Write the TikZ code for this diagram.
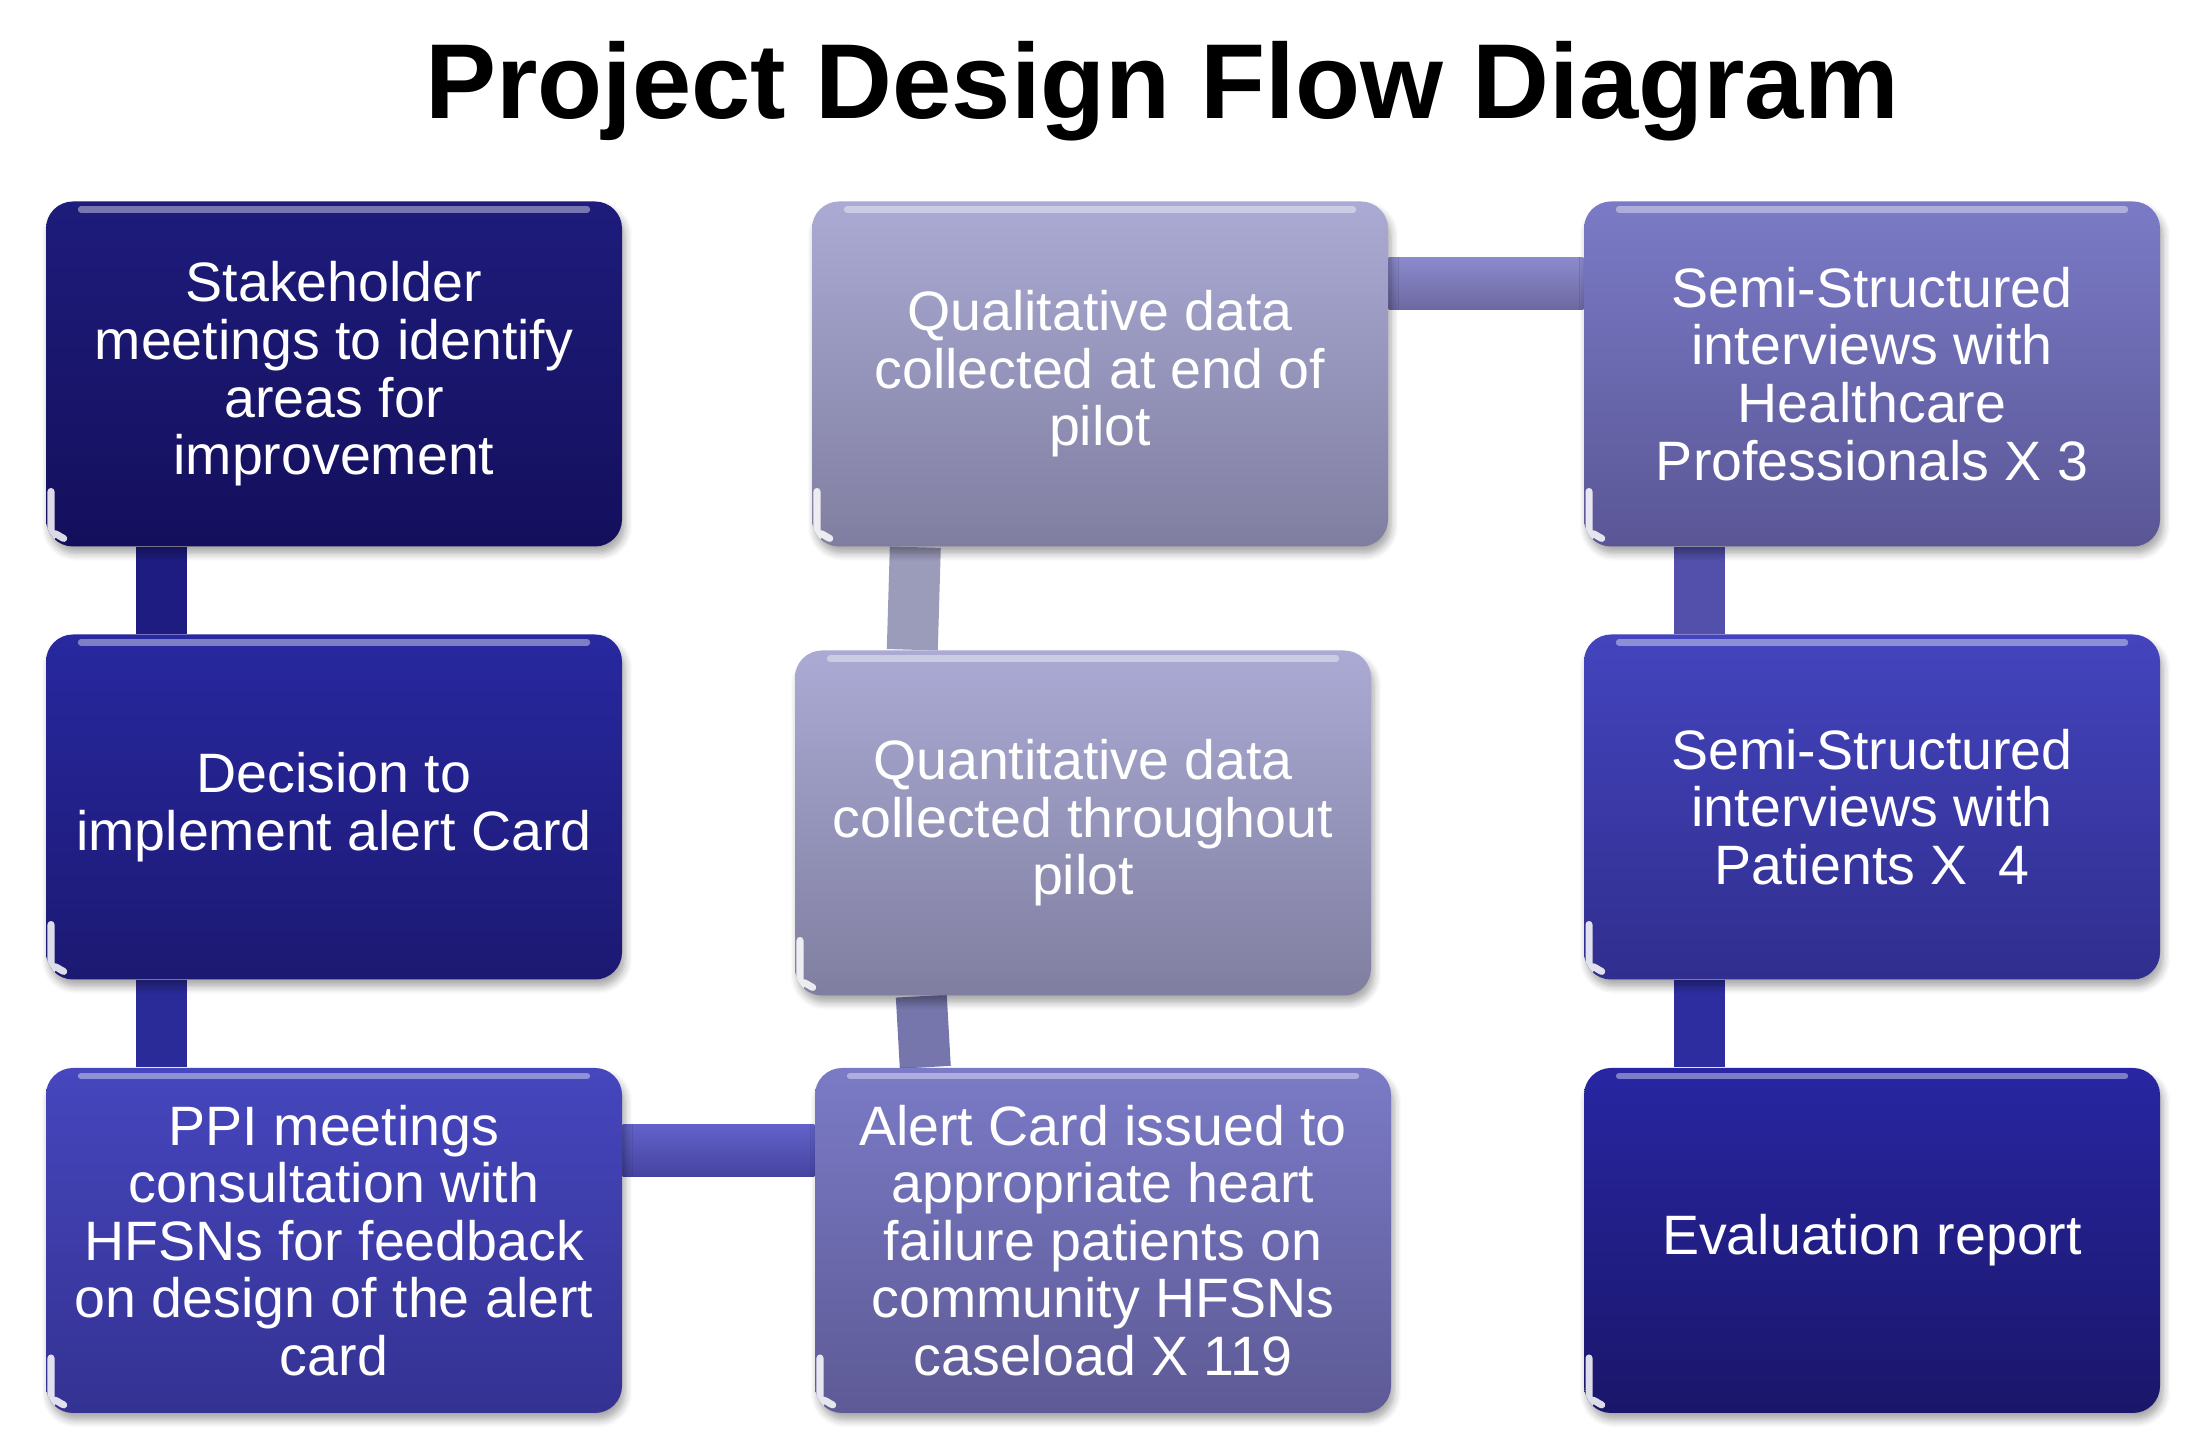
\documentclass[tikz,border=0pt]{standalone}
\usepackage{fontspec}
\setmainfont{Liberation Sans}
\usetikzlibrary{shadows.blur,backgrounds}
% box shades, top and bottom
\definecolor{stakeT}{RGB}{30,28,124}\definecolor{stakeB}{RGB}{20,15,92}
\definecolor{decT}{RGB}{40,40,160}\definecolor{decB}{RGB}{28,25,114}
\definecolor{ppiT}{RGB}{70,70,190}\definecolor{ppiB}{RGB}{52,50,146}
\definecolor{alertT}{RGB}{122,122,198}\definecolor{alertB}{RGB}{94,90,150}
\definecolor{dataT}{RGB}{170,170,212}\definecolor{dataB}{RGB}{128,126,160}
\definecolor{semiT}{RGB}{122,122,198}\definecolor{semiB}{RGB}{90,86,150}
\definecolor{patT}{RGB}{68,68,190}\definecolor{patB}{RGB}{48,46,142}
\definecolor{evalT}{RGB}{40,38,162}\definecolor{evalB}{RGB}{26,22,106}
% bars
\definecolor{barA}{RGB}{30,28,128}\definecolor{barB}{RGB}{42,42,152}
\definecolor{barC}{RGB}{118,118,172}\definecolor{barD}{RGB}{155,155,186}
\definecolor{barE}{RGB}{82,80,170}\definecolor{barF}{RGB}{45,45,160}
\definecolor{barGT}{RGB}{98,98,202}\definecolor{barGB}{RGB}{70,68,160}
\definecolor{barHT}{RGB}{140,138,206}\definecolor{barHB}{RGB}{108,104,160}
\begin{document}
\begin{tikzpicture}[line join=round,
  box/.style={rounded corners=0.27cm, minimum width=5.76cm, minimum height=3.45cm,
    align=center, text=white, font=\fontsize{15.8}{16.4}\selectfont,
    blur shadow={shadow xshift=0.03cm, shadow yshift=-0.07cm, shadow opacity=35, shadow blur steps=6},
    path picture={
      \draw[white, opacity=0.4, line width=1.8pt, line cap=round]
        ([xshift=0.35cm,yshift=-0.08cm]path picture bounding box.north west) --
        ([xshift=-0.35cm,yshift=-0.08cm]path picture bounding box.north east);
      \draw[white, opacity=0.85, line width=2pt, line cap=round]
        ([xshift=0.05cm,yshift=0.34cm]path picture bounding box.south west) -- ++(0,-0.06)
        arc[start angle=180, end angle=245, radius=0.22cm];
    }},
  bar/.style={line width=0.51cm, line cap=butt}]
\useasboundingbox (0,0) rectangle (22.03,14.33);

\node[font=\fontsize{30.3}{36}\selectfont\bfseries, anchor=base] (title) at (11.62,13.14) {Project Design Flow Diagram};

% first column
\node[box, top color=stakeT, bottom color=stakeB] (stake) at (3.34,10.59) {Stakeholder\\meetings to identify\\areas for\\improvement};
\node[box, top color=decT, bottom color=decB] (decision) at (3.34,6.26) {Decision to\\implement alert Card};
\node[box, top color=ppiT, bottom color=ppiB] (ppi) at (3.34,1.925) {PPI meetings\\consultation with\\HFSNs for feedback\\on design of the alert\\card};
% second column
\node[box, top color=alertT, bottom color=alertB] (alert) at (11.03,1.925) {Alert Card issued to\\appropriate heart\\failure patients on\\community HFSNs\\caseload X 119};
\node[box, top color=dataT, bottom color=dataB] (quant) at (10.83,6.10) {Quantitative data\\collected throughout\\pilot};
\node[box, top color=dataT, bottom color=dataB] (qual) at (11.00,10.59) {Qualitative data\\collected at end of\\pilot};
% third column
\node[box, top color=semiT, bottom color=semiB] (semihcp) at (18.72,10.59) {Semi-Structured\\interviews with\\Healthcare\\Professionals X 3};
\node[box, top color=patT, bottom color=patB] (semipat) at (18.72,6.26) {Semi-Structured\\interviews with\\Patients X\ \ 4};
\node[box, top color=evalT, bottom color=evalB] (eval) at (18.72,1.925) {Evaluation report};

\begin{scope}[on background layer]
\draw[bar, barA] ([xshift=1.16cm]stake.south west) -- ([xshift=1.16cm]decision.north west);
\draw[bar, barB] ([xshift=1.16cm]decision.south west) -- ([xshift=1.16cm]ppi.north west);
\shade[top color=barGT, bottom color=barGB] ([yshift=-0.57cm]ppi.north east) rectangle ([yshift=-1.09cm]alert.north west);
\draw[bar, barC] ([xshift=1.11cm]alert.north west) -- ([xshift=1.27cm]quant.south west);
\draw[bar, barD] ([xshift=1.18cm]quant.north west) -- ([xshift=1.04cm]qual.south west);
\shade[top color=barHT, bottom color=barHB] ([yshift=-0.57cm]qual.north east) rectangle ([yshift=-1.09cm]semihcp.north west);
\draw[bar, barE] ([xshift=1.16cm]semihcp.south west) -- ([xshift=1.16cm]semipat.north west);
\draw[bar, barF] ([xshift=1.16cm]semipat.south west) -- ([xshift=1.16cm]eval.north west);
\end{scope}
\end{tikzpicture}
\end{document}
